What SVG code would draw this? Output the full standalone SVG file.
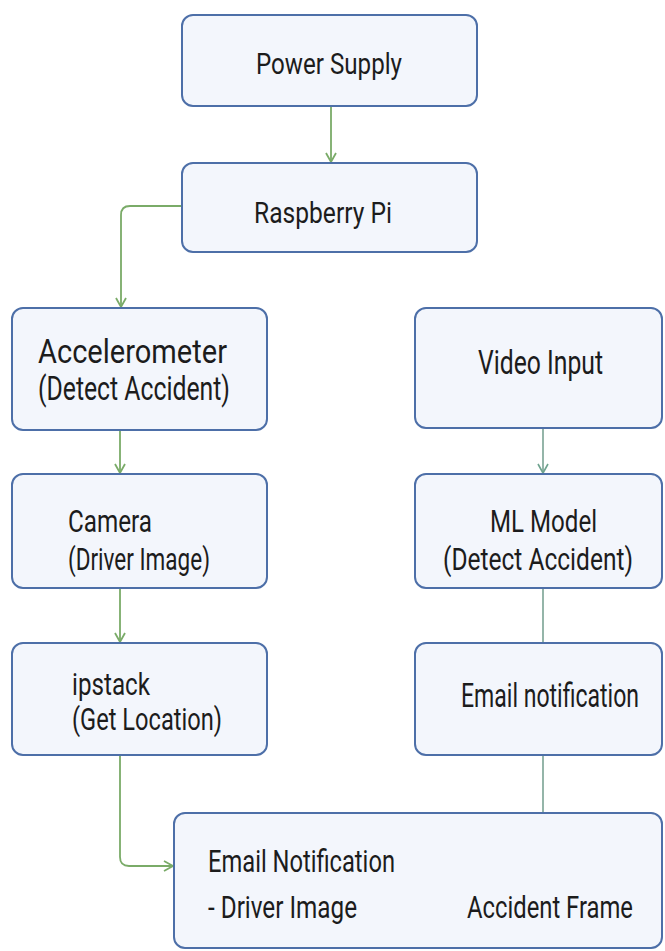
<svg xmlns="http://www.w3.org/2000/svg" width="665" height="951" viewBox="0 0 665 951">
<defs>
<style>
.box{fill:#f3f6fc;stroke:#4d6fa8;stroke-width:2}
.t{font-family:Roboto,"Liberation Sans",sans-serif;fill:#1c1c1c}
.c{fill:none;stroke:#7aab68;stroke-width:1.8}
.c2{fill:none;stroke:#7aa394;stroke-width:1.6}
</style>
<marker id="ah" viewBox="-11 -7 13 14" markerWidth="13" markerHeight="14" refX="0" refY="0" orient="auto" markerUnits="userSpaceOnUse">
<path d="M-9,-5 L0,0 L-9,5" fill="none" stroke="#7aab68" stroke-width="1.8"/>
</marker>
<marker id="ah2" viewBox="-11 -7 13 14" markerWidth="13" markerHeight="14" refX="0" refY="0" orient="auto" markerUnits="userSpaceOnUse">
<path d="M-9,-5 L0,0 L-9,5" fill="none" stroke="#6fa38f" stroke-width="1.6"/>
</marker>
</defs>
<rect width="665" height="951" fill="#ffffff"/>
<g id="connectors">
<path class="c" d="M331,106 V162" marker-end="url(#ah)"/>
<path class="c" d="M182,206 H130 Q121,206 121,215 V307" marker-end="url(#ah)"/>
<path class="c" d="M120,430 V473" marker-end="url(#ah)"/>
<path class="c" d="M120,588 V642" marker-end="url(#ah)"/>
<path class="c" d="M120,755 V857 Q120,866 129,866 H173" marker-end="url(#ah)"/>
<path class="c2" d="M543,428 V473" marker-end="url(#ah2)"/>
<path class="c2" d="M543,588 V643"/>
<path class="c2" d="M543,755 V813"/>
</g>
<g id="power-supply">
<rect class="box" x="182" y="15" width="295" height="91" rx="11"/>
<text class="t" transform="translate(256,74) scale(0.75,1)" font-size="30" textLength="194.7" lengthAdjust="spacingAndGlyphs">Power Supply</text>
</g>
<g id="raspberry-pi">
<rect class="box" x="182" y="163" width="295" height="89" rx="11"/>
<text class="t" transform="translate(254,223) scale(0.75,1)" font-size="30" textLength="184" lengthAdjust="spacingAndGlyphs">Raspberry Pi</text>
</g>
<g id="accelerometer">
<rect class="box" x="12" y="308" width="255" height="122" rx="11"/>
<text class="t" transform="translate(38,363) scale(0.75,1)" font-size="34" textLength="252" lengthAdjust="spacingAndGlyphs">Accelerometer</text>
<text class="t" transform="translate(38,400) scale(0.75,1)" font-size="33" textLength="256" lengthAdjust="spacingAndGlyphs">(Detect Accident)</text>
</g>
<g id="video-input">
<rect class="box" x="415" y="308" width="247" height="120" rx="11"/>
<text class="t" transform="translate(478,374) scale(0.75,1)" font-size="33" textLength="166.7" lengthAdjust="spacingAndGlyphs">Video Input</text>
</g>
<g id="camera">
<rect class="box" x="12" y="474" width="255" height="114" rx="11"/>
<text class="t" transform="translate(68,532) scale(0.75,1)" font-size="32" textLength="112" lengthAdjust="spacingAndGlyphs">Camera</text>
<text class="t" transform="translate(68,570) scale(0.75,1)" font-size="32" textLength="189.3" lengthAdjust="spacingAndGlyphs">(Driver Image)</text>
</g>
<g id="ml-model">
<rect class="box" x="415" y="474" width="247" height="114" rx="11"/>
<text class="t" transform="translate(490,532) scale(0.75,1)" font-size="32" textLength="142.7" lengthAdjust="spacingAndGlyphs">ML Model</text>
<text class="t" transform="translate(443,570) scale(0.75,1)" font-size="32" textLength="253.3" lengthAdjust="spacingAndGlyphs">(Detect Accident)</text>
</g>
<g id="ipstack">
<rect class="box" x="12" y="643" width="255" height="112" rx="11"/>
<text class="t" transform="translate(72,695) scale(0.75,1)" font-size="32" textLength="104" lengthAdjust="spacingAndGlyphs">ipstack</text>
<text class="t" transform="translate(72,730) scale(0.75,1)" font-size="32" textLength="200" lengthAdjust="spacingAndGlyphs">(Get Location)</text>
</g>
<g id="email-notification">
<rect class="box" x="415" y="643" width="247" height="112" rx="11"/>
<text class="t" transform="translate(461,707) scale(0.75,1)" font-size="33" textLength="237.3" lengthAdjust="spacingAndGlyphs">Email notification</text>
</g>
<g id="email-notification-final">
<rect class="box" x="174" y="813" width="488" height="135" rx="11"/>
<text class="t" transform="translate(208,872) scale(0.75,1)" font-size="31" textLength="249.3" lengthAdjust="spacingAndGlyphs">Email Notification</text>
<text class="t" transform="translate(208,918) scale(0.75,1)" font-size="31" textLength="198.7" lengthAdjust="spacingAndGlyphs">- Driver Image</text>
<text class="t" transform="translate(467,918) scale(0.75,1)" font-size="31" textLength="221.3" lengthAdjust="spacingAndGlyphs">Accident Frame</text>
</g>
</svg>
